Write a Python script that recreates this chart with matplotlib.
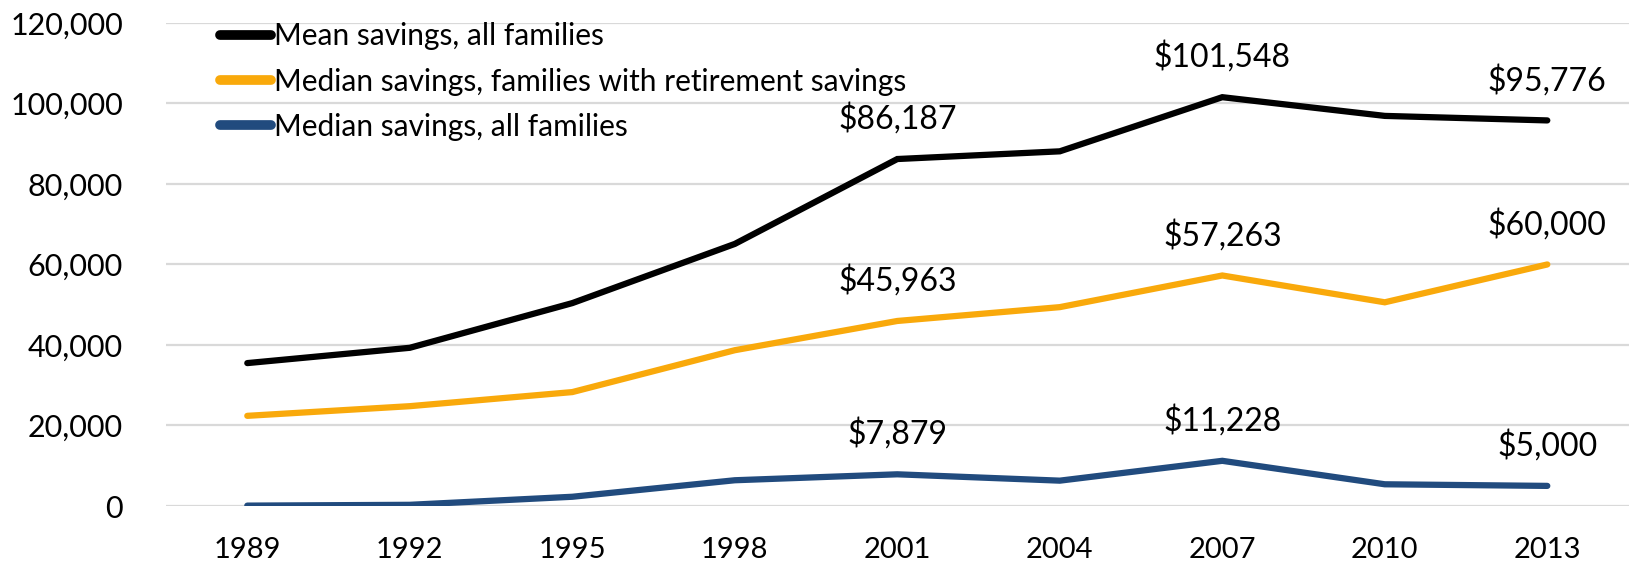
import matplotlib
matplotlib.use("Agg")
import matplotlib.pyplot as plt
from matplotlib.ticker import FuncFormatter

plt.rcParams['font.family'] = ['Lato', 'DejaVu Sans']

years = ["1989", "1992", "1995", "1998", "2001", "2004", "2007", "2010", "2013"]
mean_all = [35500, 39300, 50400, 65100, 86187, 88100, 101548, 96900, 95776]
median_retirement = [22400, 24800, 28300, 38700, 45963, 49400, 57263, 50600, 60000]
median_all = [100, 300, 2300, 6400, 7879, 6300, 11228, 5400, 5000]

series_names = [
    "Mean savings, all families",
    "Median savings, families with retirement savings",
    "Median savings, all families",
]
series_colors = ["#000000", "#F9A90B", "#214B7E"]

# indices of points that carry a value label, per series
labelled = [[4, 6, 8], [4, 6, 8], [4, 6, 8]]

fig = plt.figure(figsize=(16.31, 5.71), dpi=100)
ax = fig.add_axes([0.1018, 0.1138, 0.8967, 0.8461])

x = list(range(len(years)))
for vals, name, col, idx in zip([mean_all, median_retirement, median_all],
                                series_names, series_colors, labelled):
    ax.plot(x, vals, color=col, lw=4.5, solid_capstyle='round',
            solid_joinstyle='miter', label=name, zorder=3)
    for i in idx:
        ax.annotate(f"${vals[i]:,}", (x[i], vals[i]), xytext=(0, 29),
                    textcoords='offset points', ha='center', va='center',
                    fontsize=23, color='black')

ax.set_xlim(-0.5, len(years) - 0.5)
ax.set_ylim(0, 120000)
ax.set_yticks(range(0, 120001, 20000))
ax.yaxis.set_major_formatter(FuncFormatter(lambda v, p: f"{int(v):,}"))
ax.set_xticks(x)
ax.set_xticklabels(years)
ax.tick_params(axis='y', length=0, pad=31, labelsize=22)
ax.tick_params(axis='x', length=0, pad=22, labelsize=21)
ax.grid(axis='y', color='#D9D9D9', lw=1.6, zorder=0)
ax.set_axisbelow(True)
for s in ax.spines.values():
    s.set_visible(False)

leg = ax.legend(loc='upper left', bbox_to_anchor=(0.029, 1.026), frameon=False,
                fontsize=21.5, handlelength=1.7, handletextpad=0.08,
                labelspacing=0.58, borderaxespad=0)
for h in leg.get_lines():
    h.set_linewidth(7)
    h.set_solid_capstyle('round')

fig.savefig("out.png", dpi=100)
